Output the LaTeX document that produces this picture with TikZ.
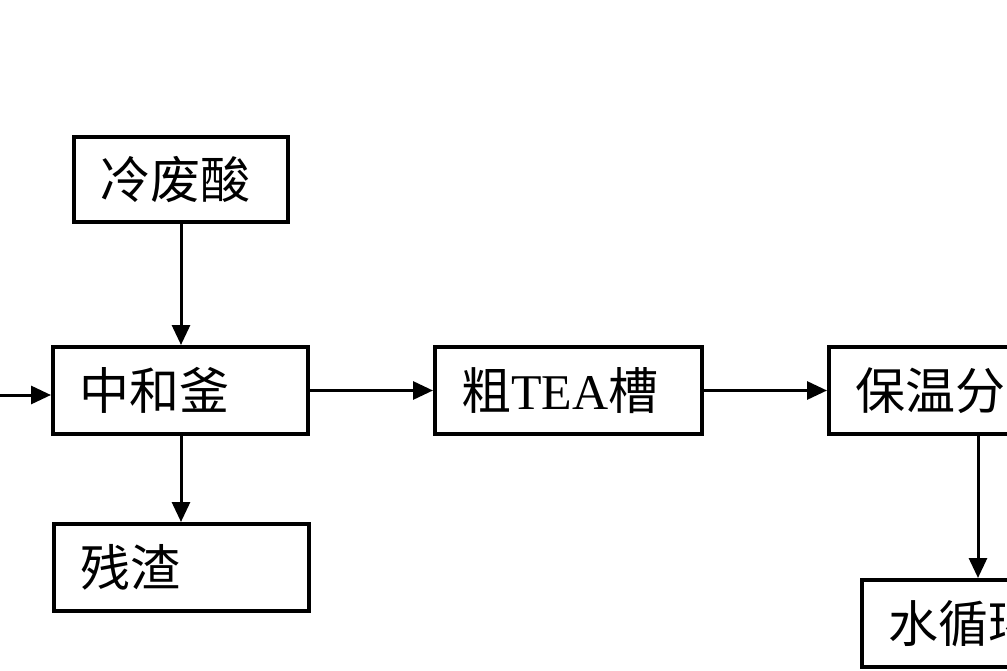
\documentclass[tikz,border=0pt]{standalone}
\usepackage{fontspec}
\setmainfont{Liberation Serif}
\newfontfamily\cjk{Noto Sans CJK SC}
\usetikzlibrary{arrows.meta}

\tikzset{
  box/.style={draw, line width=4pt, minimum height=87pt, inner xsep=26pt, inner ysep=0pt,
    align=left, anchor=north west, font=\fontsize{50}{50}\selectfont},
  arr/.style={line width=3pt, -{Triangle[length=20pt,width=18pt]}}
}

\begin{document}
\begin{tikzpicture}[x=1pt,y=-1pt]
  \useasboundingbox (0,0) rectangle (1007,671);
  \clip (0,0) rectangle (1007,671);

  \node[box, text width=162pt, minimum height=85pt] (acid) at (72,135) {\cjk 冷废酸};
  \node[box, text width=203pt] (reactor) at (51,345) {\cjk 中和釜};
  \node[box, text width=203pt] (residue) at (52,522) {\cjk 残渣};
  \node[box, text width=215pt] (crude) at (433,345) {{\cjk 粗}TEA{\cjk 槽}};
  \node[box, text width=203pt] (hold) at (827,345) {\cjk 保温分};
  \node[box, text width=203pt] (water) at (860,578) {\cjk 水循环};

  \coordinate (feed) at (0,395);
  \coordinate (split) at (978,433);

  \draw[arr] (feed) -- (feed -| reactor.west);
  \draw[arr] (acid) -- (acid |- reactor.north);
  \draw[arr] (acid |- reactor.south) -- (acid |- residue.north);
  \draw[arr] (reactor) -- (crude);
  \draw[arr] (crude) -- (hold);
  \draw[arr] (split) -- (split |- water.north);
\end{tikzpicture}
\end{document}
